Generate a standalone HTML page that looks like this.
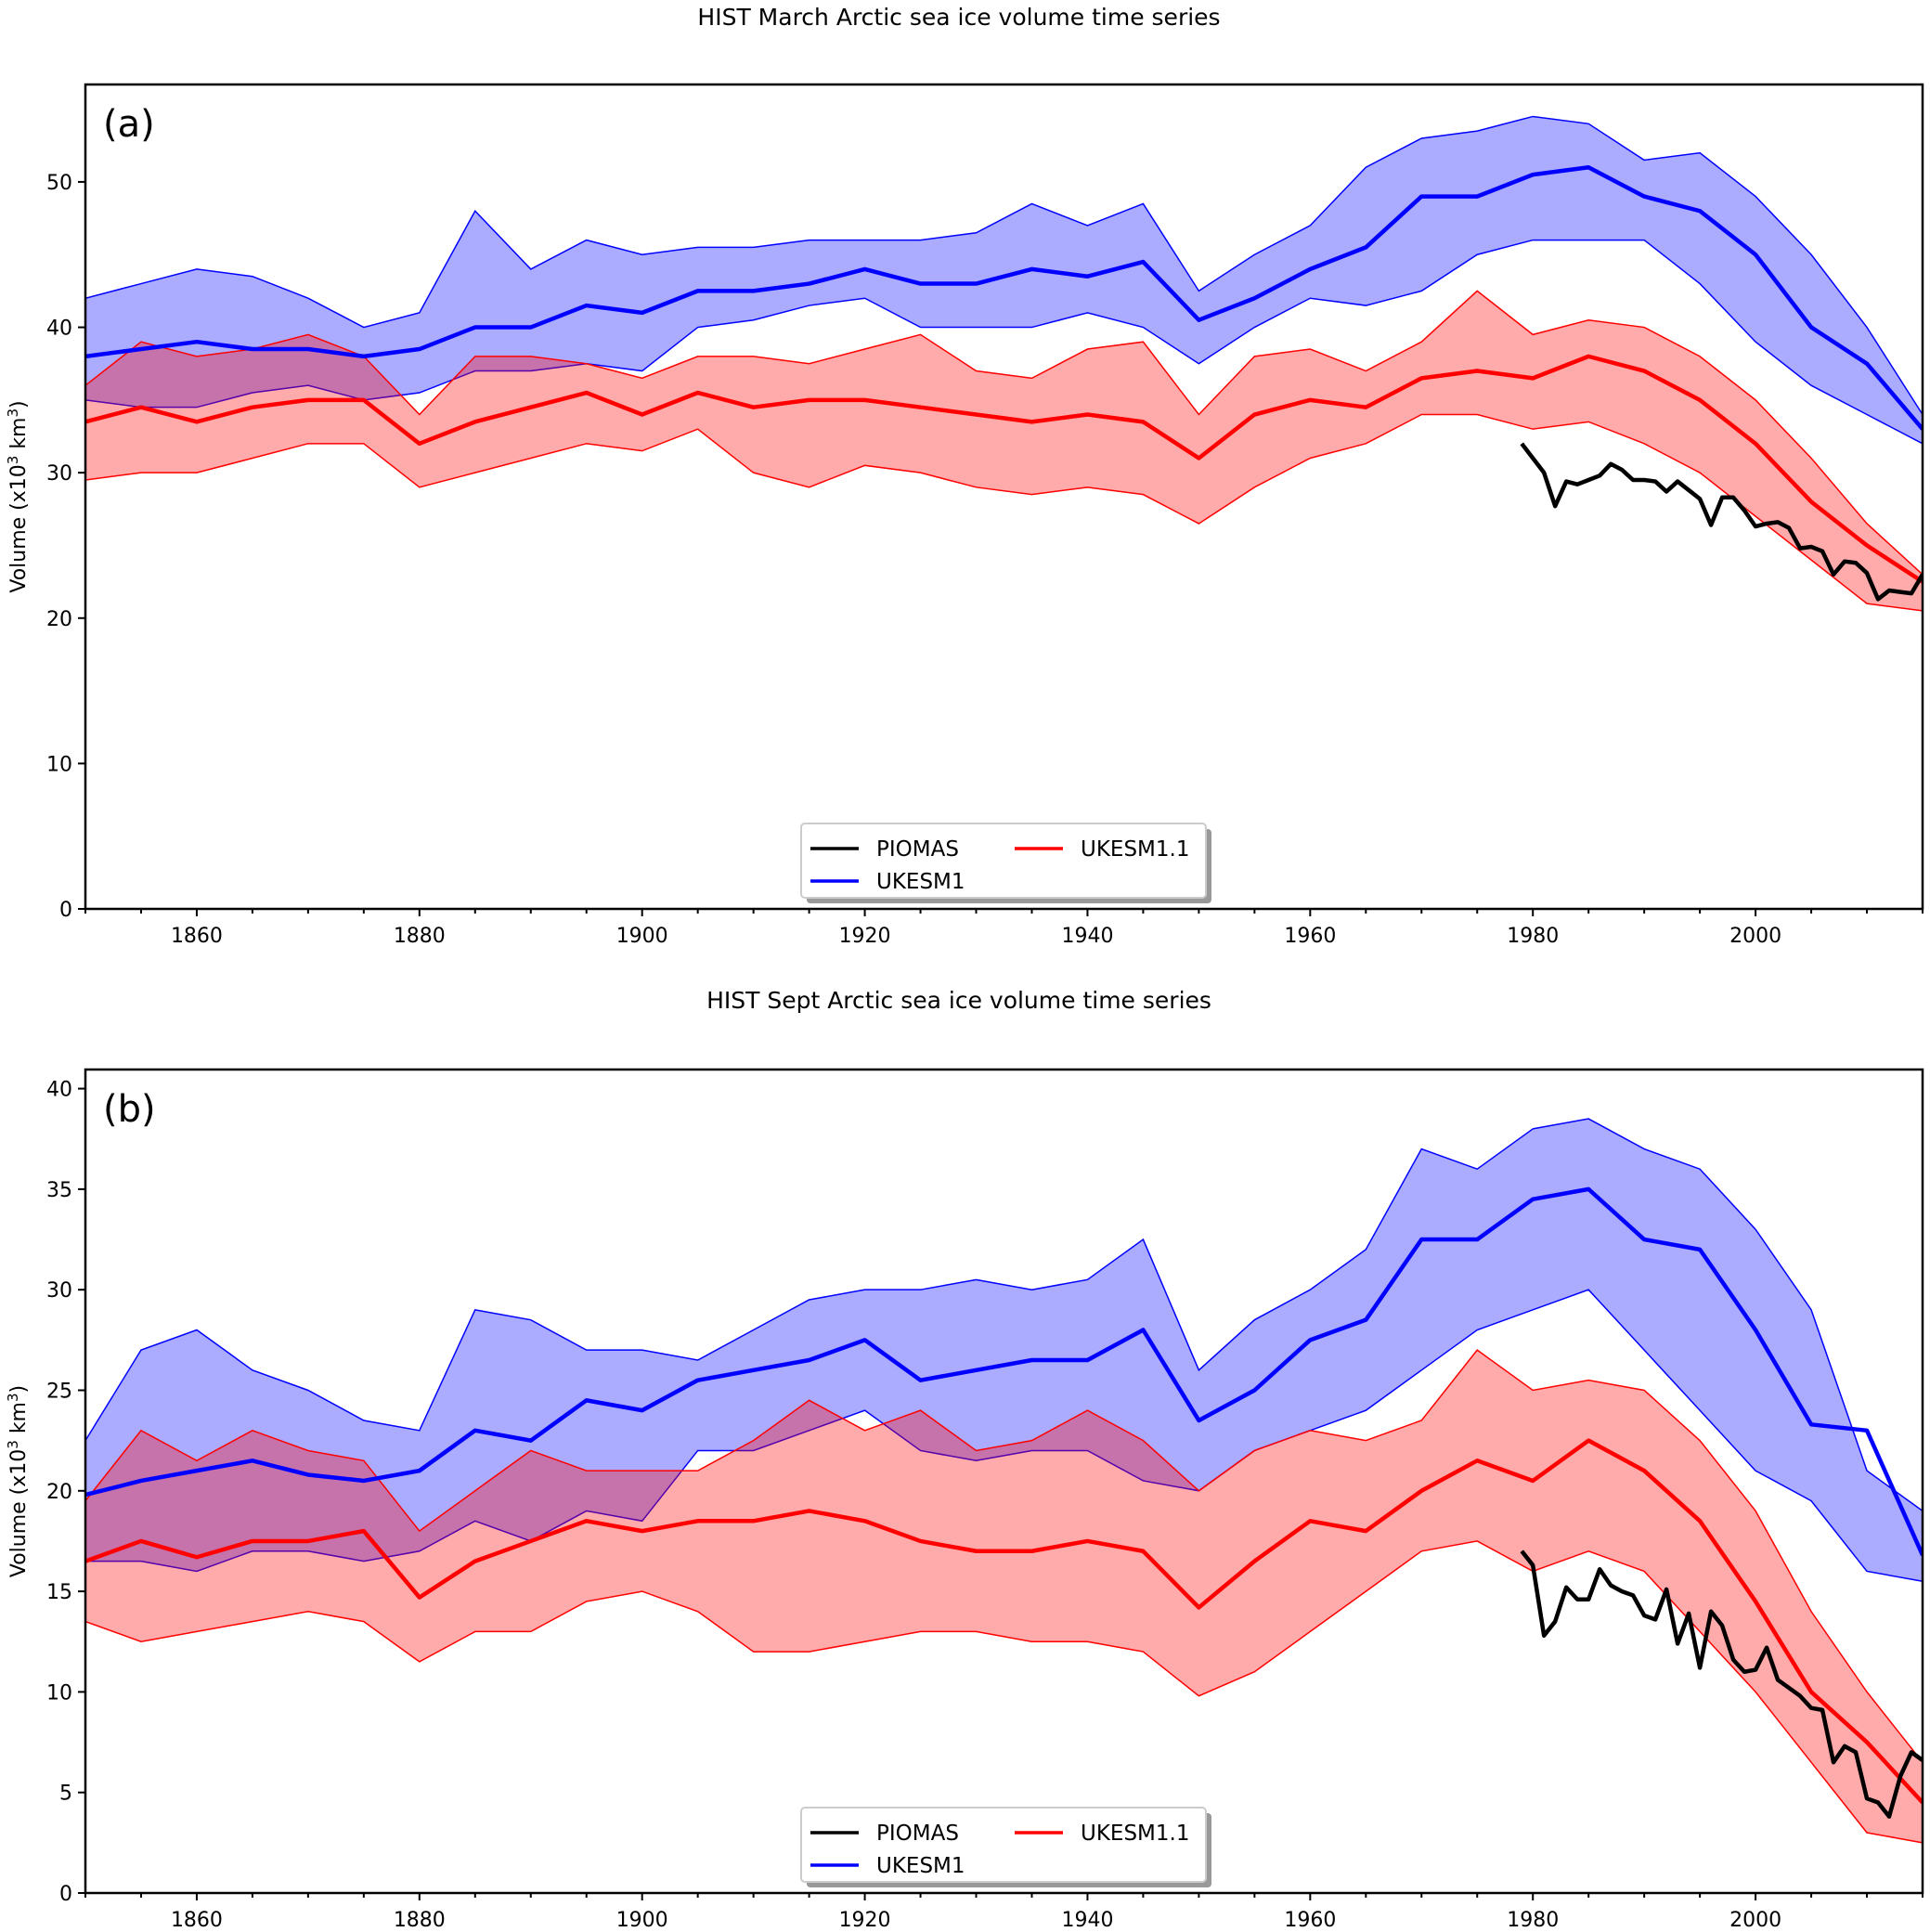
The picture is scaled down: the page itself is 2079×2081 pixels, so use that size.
<!DOCTYPE html>
<html><head><meta charset="utf-8">
<style>
html,body{margin:0;padding:0;background:#fff;}
svg{display:block;font-family:"DejaVu Sans","Liberation Sans",sans-serif;}
</style></head>
<body>
<svg id="chart" width="2079" height="2081" viewBox="0 0 2079 2081" xmlns="http://www.w3.org/2000/svg"></svg>
<script>
const years = [1850,1855,1860,1865,1870,1875,1880,1885,1890,1895,1900,1905,1910,1915,1920,1925,1930,1935,1940,1945,1950,1955,1960,1965,1970,1975,1980,1985,1990,1995,2000,2005,2010,2015];
// Panel a (March)
const marBlueMean = [38,38.5,39,38.5,38.5,38,38.5,40,40,41.5,41,42.5,42.5,43,44,43,43,44,43.5,44.5,40.5,42,44,45.5,49,49,50.5,51,49,48,45,40,37.5,33];
const marBlueMax  = [42,43,44,43.5,42,40,41,48,44,46,45,45.5,45.5,46,46,46,46.5,48.5,47,48.5,42.5,45,47,51,53,53.5,54.5,54,51.5,52,49,45,40,34];
const marBlueMin  = [35,34.5,34.5,35.5,36,35,35.5,37,37,37.5,37,40,40.5,41.5,42,40,40,40,41,40,37.5,40,42,41.5,42.5,45,46,46,46,43,39,36,34,32];
const marRedMean  = [33.5,34.5,33.5,34.5,35,35,32,33.5,34.5,35.5,34,35.5,34.5,35,35,34.5,34,33.5,34,33.5,31,34,35,34.5,36.5,37,36.5,38,37,35,32,28,25,22.5];
const marRedMax   = [36,39,38,38.5,39.5,38,34,38,38,37.5,36.5,38,38,37.5,38.5,39.5,37,36.5,38.5,39,34,38,38.5,37,39,42.5,39.5,40.5,40,38,35,31,26.5,23];
const marRedMin   = [29.5,30,30,31,32,32,29,30,31,32,31.5,33,30,29,30.5,30,29,28.5,29,28.5,26.5,29,31,32,34,34,33,33.5,32,30,27,24,21,20.5];
const piomasYears = [1979,1980,1981,1982,1983,1984,1985,1986,1987,1988,1989,1990,1991,1992,1993,1994,1995,1996,1997,1998,1999,2000,2001,2002,2003,2004,2005,2006,2007,2008,2009,2010,2011,2012,2013,2014,2015];
const marPiomas = [32,31,30,27.7,29.4,29.2,29.5,29.8,30.6,30.2,29.5,29.5,29.4,28.7,29.4,28.8,28.2,26.4,28.3,28.3,27.4,26.3,26.5,26.6,26.2,24.8,24.9,24.6,23,23.9,23.8,23.1,21.3,21.9,21.8,21.7,23];
// Panel b (Sept)
const sepBlueMean = [19.8,20.5,21,21.5,20.8,20.5,21,23,22.5,24.5,24,25.5,26,26.5,27.5,25.5,26,26.5,26.5,28,23.5,25,27.5,28.5,32.5,32.5,34.5,35,32.5,32,28,23.3,23,16.8];
const sepBlueMax  = [22.5,27,28,26,25,23.5,23,29,28.5,27,27,26.5,28,29.5,30,30,30.5,30,30.5,32.5,26,28.5,30,32,37,36,38,38.5,37,36,33,29,21,19];
const sepBlueMin  = [16.5,16.5,16,17,17,16.5,17,18.5,17.5,19,18.5,22,22,23,24,22,21.5,22,22,20.5,20,22,23,24,26,28,29,30,27,24,21,19.5,16,15.5];
const sepRedMean  = [16.5,17.5,16.7,17.5,17.5,18,14.7,16.5,17.5,18.5,18,18.5,18.5,19,18.5,17.5,17,17,17.5,17,14.2,16.5,18.5,18,20,21.5,20.5,22.5,21,18.5,14.5,10,7.5,4.5];
const sepRedMax   = [19.5,23,21.5,23,22,21.5,18,20,22,21,21,21,22.5,24.5,23,24,22,22.5,24,22.5,20,22,23,22.5,23.5,27,25,25.5,25,22.5,19,14,10,6.5];
const sepRedMin   = [13.5,12.5,13,13.5,14,13.5,11.5,13,13,14.5,15,14,12,12,12.5,13,13,12.5,12.5,12,9.8,11,13,15,17,17.5,16,17,16,13,10,6.5,3,2.5];
const sepPiomas = [17,16.3,12.8,13.5,15.2,14.6,14.6,16.1,15.3,15,14.8,13.8,13.6,15.1,12.4,13.9,11.2,14,13.3,11.6,11,11.1,12.2,10.6,10.2,9.8,9.2,9.1,6.5,7.3,7,4.7,4.5,3.8,5.8,7,6.6];
const yTicksA = [0,10,20,30,40,50];
const yTicksB = [0,5,10,15,20,25,30,35,40];
const xTickLabels = [1860,1880,1900,1920,1940,1960,1980,2000];

const NS='http://www.w3.org/2000/svg';
const svg=document.getElementById('chart');
function mk(tag,attrs,parent){const e=document.createElementNS(NS,tag);for(const k in attrs)e.setAttribute(k,attrs[k]);(parent||svg).appendChild(e);return e;}

function panel(cfg){
  const g=mk('g',{});
  
  
  const L=92,R=2071,T=cfg.top,B=cfg.bottom;
  const xs=y=>L+(y-1850)/(2015-1850)*(R-L);
  const ys=v=>B-(v-0)/(cfg.ymax)*(B-T);
  const clip=mk('clipPath',{id:'clip-'+cfg.id},g);
  mk('rect',{x:L,y:T,width:R-L,height:B-T},clip);
  const plot=mk('g',{'clip-path':'url(#clip-'+cfg.id+')'},g);
  function band(mins,maxs,fill,stroke,name){
    let d='M'+years.map((y,i)=>xs(y)+','+ys(maxs[i])).join('L');
    for(let i=years.length-1;i>=0;i--)d+='L'+xs(years[i])+','+ys(mins[i]);
    d+='Z';
    const p=mk('path',{d:d,fill:fill,stroke:'none'},plot);
    
    
    [maxs,mins].forEach((arr,k)=>{
      const l=mk('polyline',{points:years.map((y,i)=>xs(y)+','+ys(arr[i])).join(' '),fill:'none',stroke:stroke,'stroke-width':1.5},plot);
      
      
    });
  }
  function line(xv,vals,color,w,name){
    const l=mk('polyline',{points:xv.map((y,i)=>xs(y)+','+ys(vals[i])).join(' '),fill:'none',stroke:color,'stroke-width':w,'stroke-linejoin':'round'},plot);
    
    
  }
  band(cfg.bmin,cfg.bmax,'rgba(0,0,255,0.33)','#0000ff','ukesm1');
  band(cfg.rmin,cfg.rmax,'rgba(255,0,0,0.33)','#ff0000','ukesm11');
  line(years,cfg.bmean,'#0000ff',4.5,'ukesm1-mean-line');
  line(years,cfg.rmean,'#ff0000',4.5,'ukesm11-mean-line');
  line(piomasYears,cfg.piomas,'#000',4.5,'piomas-line');
  const frame=mk('rect',{x:L,y:T,width:R-L,height:B-T,fill:'none',stroke:'#000','stroke-width':2.5},g);
  
  
  cfg.yticks.forEach(v=>{
    mk('line',{x1:L-8,x2:L,y1:ys(v),y2:ys(v),stroke:'#000','stroke-width':2},g);
    const t=mk('text',{x:L-14,y:ys(v)+8,'text-anchor':'end','font-size':22},g);
    t.textContent=v;
    
    
  });
  for(let y=1850;y<=2015;y+=5){
    const major=(y%20===0);
    mk('line',{x1:xs(y),x2:xs(y),y1:B,y2:B+(major?8:5),stroke:'#000','stroke-width':2},g);
  }
  xTickLabels.forEach(y=>{
    const t=mk('text',{x:xs(y),y:B+36,'text-anchor':'middle','font-size':22},g);
    t.textContent=y;
    
    
  });
  const tt=mk('text',{x:1033,y:cfg.titleY,'text-anchor':'middle','font-size':25},g);
  tt.textContent=cfg.title;
  
  
  const pl=mk('text',{x:111,y:T+56,'font-size':40},g);
  pl.textContent=cfg.label;
  
  
  const yl=mk('text',{x:0,y:0,'text-anchor':'middle','font-size':22,transform:'translate(27,'+((T+B)/2)+') rotate(-90)'},g);
  yl.innerHTML='Volume (x10<tspan dy="-8" font-size="15">3</tspan><tspan dy="8"> km</tspan><tspan dy="-8" font-size="15">3</tspan><tspan dy="8">)</tspan>';
  
  
  const lg=mk('g',{},g);
  
  
  const ly=B-92;
  mk('rect',{x:869,y:ly+6,width:436,height:80,rx:4,fill:'#999'},lg);
  mk('rect',{x:863,y:ly,width:436,height:80,rx:4,fill:'#fff',stroke:'#ccc','stroke-width':2},lg);
  [['PIOMAS','#000',873,944,ly+27],['UKESM1','#0000ff',873,944,ly+62],['UKESM1.1','#ff0000',1093,1164,ly+27]].forEach(e=>{
    const it=mk('g',{},lg);
    
    
    mk('line',{x1:e[2],x2:e[2]+52,y1:e[4],y2:e[4],stroke:e[1],'stroke-width':3.5},it);
    const t=mk('text',{x:e[3],y:e[4]+8,'font-size':23},it);
    t.textContent=e[0];
  });
}
panel({id:'panel-a',top:91,bottom:979,ymax:56.7,yticks:yTicksA,title:'HIST March Arctic sea ice volume time series',titleY:27,label:'(a)',
  bmean:marBlueMean,bmax:marBlueMax,bmin:marBlueMin,rmean:marRedMean,rmax:marRedMax,rmin:marRedMin,piomas:marPiomas});
panel({id:'panel-b',top:1152,bottom:2039,ymax:40.95,yticks:yTicksB,title:'HIST Sept Arctic sea ice volume time series',titleY:1086,label:'(b)',
  bmean:sepBlueMean,bmax:sepBlueMax,bmin:sepBlueMin,rmean:sepRedMean,rmax:sepRedMax,rmin:sepRedMin,piomas:sepPiomas});
</script>
</body></html>
